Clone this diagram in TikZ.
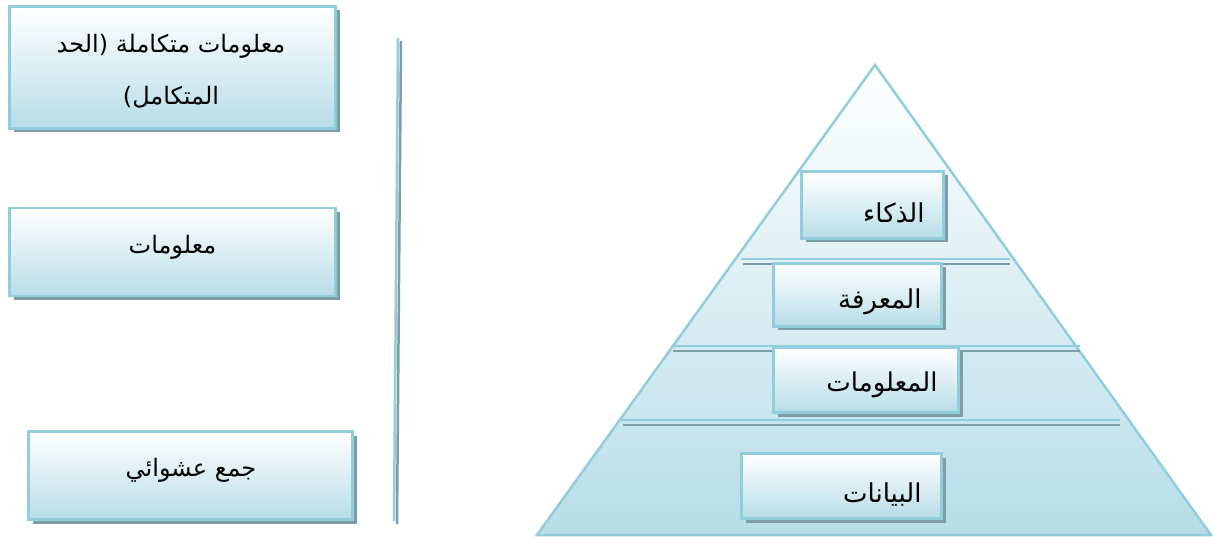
\documentclass[tikz,border=0pt]{standalone}
\usepackage{fontspec}
\TeXXeTstate=1
\newfontfamily\arabicfont[Script=Arabic]{DejaVu Sans}
\usetikzlibrary{shadows,positioning}
\definecolor{framebl}{RGB}{146,205,220}
\definecolor{fillbl}{RGB}{183,221,232}
\definecolor{shadegr}{RGB}{125,158,168}
\tikzset{
  lvlbox/.style={rectangle, draw=framebl, line width=2.5pt, top color=white, bottom color=fillbl,
                 drop shadow={shadow xshift=4pt, shadow yshift=-4pt, fill=shadegr, opacity=1},
                 inner sep=0pt},
  lbl/.style={font=\arabicfont\fontsize{24}{30}\selectfont, inner sep=0pt, align=center},
  plbl/.style={font=\arabicfont\fontsize{26}{30}\selectfont, inner sep=0pt, anchor=east},
  sepline/.style={draw=framebl, line width=2.5pt},
  sepshadow/.style={draw=shadegr, line width=2.5pt},
}
\begin{document}
\begin{tikzpicture}[x=1pt, y=-1pt]
  \useasboundingbox (0,0) rectangle (1213,537);
  % stages on the left
  \node[lvlbox, minimum width=326pt, minimum height=122pt] (full) at (172.5,67.5) {};
  \node[lbl] (fullt) at (171,71) {\beginR معلومات متكاملة (الحد\endR\\[22pt]\beginR المتكامل)\endR};
  \node[lvlbox, minimum width=326pt, minimum height=88pt] (info) at (172.5,252) {};
  \node[lbl] (infot) at (172.5,247) {\beginR معلومات\endR};
  \node[lvlbox, minimum width=324pt, minimum height=88pt] (rand) at (190.5,475.5) {};
  \node[lbl] (randt) at (191,470) {\beginR جمع عشوائي\endR};
  % vertical rule
  \coordinate (vtop) at (398,38);
  \coordinate (vbot) at (394,521);
  \draw[sepshadow] ([xshift=3pt,yshift=-3pt]vtop) -- ([xshift=3pt,yshift=-3pt]vbot);
  \draw[sepline] (vtop) -- (vbot);
  % pyramid
  \coordinate (apex) at (875,65);
  \coordinate (bl) at (537,535);
  \coordinate (br) at (1211,535);
  \shade[top color=white, bottom color=fillbl, draw=framebl, line width=2.5pt]
    (apex) -- (br) -- (bl) -- cycle;
  % level separators
  \foreach \yy/\xa/\xb in {259/741/1010, 346/671/1080, 420/621/1120}{
    \coordinate (sa) at (\xa,\yy);
    \coordinate (sb) at (\xb,\yy);
    \draw[sepshadow] ([xshift=2pt,yshift=-5pt]sa) -- ([yshift=-5pt]sb);
    \draw[sepline] (sa) -- (sb);
  }
  % pyramid levels
  \node[lvlbox, minimum width=142pt, minimum height=67pt] (wis) at (872.5,205) {};
  \node[plbl] (wist) at ([xshift=-20pt,yshift=-8pt]wis.east) {\beginR الذكاء\endR};
  \node[lvlbox, minimum width=168pt, minimum height=63pt] (know) at (857.5,295) {};
  \node[plbl] (knowt) at ([xshift=-21pt,yshift=-7pt]know.east) {\beginR المعرفة\endR};
  \node[lvlbox, minimum width=185pt, minimum height=65pt] (inf) at (866,380) {};
  \node[plbl] (inft) at ([xshift=-22pt,yshift=-5pt]inf.east) {\beginR المعلومات\endR};
  \node[lvlbox, minimum width=200pt, minimum height=65pt] (dat) at (841.5,486) {};
  \node[plbl] (datt) at ([xshift=-21pt,yshift=-9pt]dat.east) {\beginR البيانات\endR};
\end{tikzpicture}
\end{document}
